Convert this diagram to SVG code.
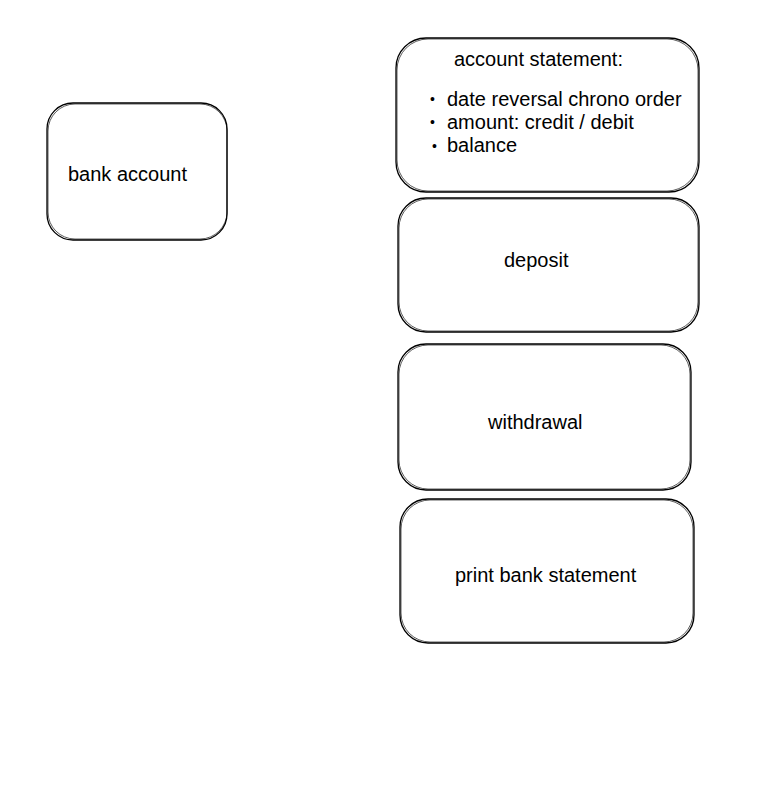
<svg xmlns="http://www.w3.org/2000/svg" width="762" height="801" viewBox="0 0 762 801">
<style>
.box{fill:#fff;stroke:#000;stroke-width:1.3}
.sk{fill:none;stroke:#000;stroke-width:0.8;opacity:0.8}
text{font-family:"Liberation Sans",Arial,sans-serif;font-size:20px;fill:#000}
.b{font-size:14px}
</style>
<rect width="762" height="801" fill="#fff"/>
<g id="bank-account">
<rect class="box" x="47" y="103" width="180" height="137" rx="26"/>
<rect class="sk" x="48" y="104" width="179" height="135" rx="27"/>
<text x="68" y="181">bank account</text>
</g>
<g id="account-statement">
<rect class="box" x="396" y="38" width="303" height="154" rx="30"/>
<rect class="sk" x="397" y="39" width="301" height="152" rx="31"/>
<text x="454" y="66">account statement:</text>
<text class="b" x="430" y="104">•</text>
<text x="447" y="106">date reversal chrono order</text>
<text class="b" x="430" y="127">•</text>
<text x="447" y="129">amount: credit / debit</text>
<text class="b" x="432" y="151">•</text>
<text x="447" y="152">balance</text>
</g>
<g id="deposit">
<rect class="box" x="398" y="198" width="301" height="134" rx="28"/>
<rect class="sk" x="399" y="199" width="299" height="132" rx="29"/>
<text x="504" y="267">deposit</text>
</g>
<g id="withdrawal">
<rect class="box" x="398" y="344" width="293" height="146" rx="28"/>
<rect class="sk" x="399" y="345" width="291" height="144" rx="29"/>
<text x="488" y="429">withdrawal</text>
</g>
<g id="print-bank-statement">
<rect class="box" x="400" y="499" width="294" height="144" rx="28"/>
<rect class="sk" x="401" y="500" width="292" height="142" rx="29"/>
<text x="455" y="582">print bank statement</text>
</g>
<g id="connectors"></g>
</svg>
